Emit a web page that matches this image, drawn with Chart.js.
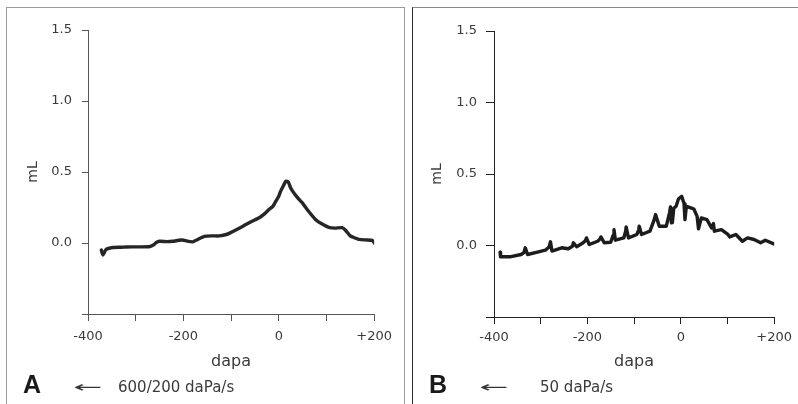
<!DOCTYPE html>
<html>
<head>
<meta charset="utf-8">
<script src="https://cdn.jsdelivr.net/npm/chart.js@4.4.1/dist/chart.umd.min.js"></script>
<style>
  html, body { margin: 0; padding: 0; background: #fff; }
  #wrap { position: relative; width: 798px; height: 404px; overflow: hidden; font-family: "DejaVu Sans", sans-serif; color: #3a3a3a; }
  canvas { position: absolute; top: 0; }
  .frame { position: absolute; top: 7px; height: 420px; }
  .txt { position: absolute; line-height: 1; transform: translateY(-50%); white-space: nowrap; }
  .letter { font-family: "Liberation Sans", Arial, sans-serif; font-weight: bold; font-size: 25px; color: #1a1a1a; }
  .arrow { display: inline-block; font-size: 15px; transform: translateY(-50%) scaleX(2.3); transform-origin: left center; color: #333; }
  .sub { font-size: 15px; }
</style>
</head>
<body>
<div id="wrap">
  <div class="frame" style="left:6px; width:397px; border:1px solid #9a9a9a;"></div>
  <div class="frame" style="left:412px; width:400px; border:1px solid #2a2a2a; border-top-color:#8a8a8a;"></div>
  <canvas id="chartA" width="400" height="404" style="left:0px"></canvas>
  <canvas id="chartB" width="398" height="404" style="left:400px"></canvas>
  <div class="txt letter" style="left:23px; top:384px;">A</div>
  <div class="txt arrow" style="left:73px; top:387px;">←</div>
  <div class="txt sub" style="left:118px; top:387px;">600/200 daPa/s</div>
  <div class="txt letter" style="left:429px; top:384px;">B</div>
  <div class="txt arrow" style="left:479px; top:387px;">←</div>
  <div class="txt sub" style="left:540px; top:387px;">50 daPa/s</div>
</div>
<script>
// pressure (daPa) and volume (mL)
const aDapa = [-372, -369, -362, -348, -330, -320, -295, -272, -262, -257, -250, -235, -222, -210, -202, -192, -181, -170, -156, -140, -125, -112, -104, -85, -69, -55, -41, -30, -20, -12, -6, 0, 4, 10, 15, 20, 24, 29, 38, 49, 62, 77, 90, 105, 118, 133, 140, 150, 160, 168, 182, 196, 201];
const aVol  = [-0.05, -0.085, -0.045, -0.032, -0.03, -0.028, -0.027, -0.026, -0.012, 0.003, 0.012, 0.010, 0.012, 0.019, 0.021, 0.013, 0.008, 0.025, 0.047, 0.05, 0.05, 0.058, 0.068, 0.1, 0.13, 0.155, 0.178, 0.205, 0.237, 0.26, 0.295, 0.33, 0.365, 0.405, 0.435, 0.43, 0.395, 0.365, 0.325, 0.284, 0.225, 0.166, 0.135, 0.11, 0.105, 0.108, 0.09, 0.05, 0.035, 0.026, 0.022, 0.019, -0.002];

const bDapa = [-387, -386, -366, -342, -336, -333, -328, -307, -290, -282, -279, -276, -255, -241, -232, -230, -223, -209, -204, -202, -196, -178, -173, -171, -164, -150, -145, -143, -140, -122, -118, -117, -112, -94, -90, -89, -84, -66, -58, -54, -46, -31, -24, -22, -20, -18, -15, -10, -5, 2, 7, 9, 12, 20, 28, 35, 38, 44, 56, 66, 70, 72, 87, 101, 105, 118, 132, 143, 157, 171, 181, 202];
const bVol  = [-0.046, -0.079, -0.079, -0.063, -0.05, -0.016, -0.063, -0.046, -0.033, -0.01, 0.026, -0.039, -0.016, -0.023, -0.005, 0.019, -0.009, 0.019, 0.035, 0.053, 0.007, 0.03, 0.045, 0.06, 0.019, 0.023, 0.07, 0.111, 0.037, 0.053, 0.1, 0.13, 0.053, 0.077, 0.11, 0.135, 0.077, 0.1, 0.17, 0.216, 0.135, 0.135, 0.23, 0.27, 0.158, 0.16, 0.26, 0.274, 0.325, 0.344, 0.293, 0.181, 0.274, 0.265, 0.255, 0.204, 0.116, 0.193, 0.181, 0.123, 0.153, 0.1, 0.111, 0.077, 0.06, 0.077, 0.03, 0.053, 0.042, 0.019, 0.037, 0.007];

const xRange = [-400, 200];
const xLabelled = [-400, -200, 0, 200];
const yRange = [-0.5, 1.5];
const yLabelled = [0, 0.5, 1, 1.5];

function xLabel(v) {
  if (!xLabelled.includes(v)) return "";
  return v > 0 ? "+" + v : String(v);
}
function yLabel(v) {
  return yLabelled.includes(v) ? v.toFixed(1) : "";
}

function makePanel(id, xs, ys, o) {
  const pts = xs.map((x, i) => ({ x: x, y: ys[i] }));
  return new Chart(document.getElementById(id), {
    type: "scatter",
    data: {
      datasets: [{
        data: pts,
        showLine: true,
        borderColor: o.line,
        borderWidth: o.lw,
        pointRadius: 0,
        borderJoinStyle: "round",
        borderCapStyle: "round",
        tension: o.tension
      }]
    },
    options: {
      responsive: false,
      animation: false,
      devicePixelRatio: 1,
      layout: { padding: { left: 0, top: o.top, right: o.right, bottom: 0 } },
      plugins: { legend: { display: false }, tooltip: { enabled: false } },
      scales: {
        x: {
          type: "linear",
          min: xRange[0], max: xRange[1],
          afterFit: s => { s.height = o.xh; },
          border: { display: true, color: o.axis, width: 1 },
          grid: { drawOnChartArea: false, drawTicks: true, tickLength: 7, color: o.axis },
          ticks: {
            stepSize: 100, autoSkip: false, maxRotation: 0, padding: o.xpad,
            color: "#3a3a3a", font: { family: "DejaVu Sans", size: 13 },
            callback: v => xLabel(v)
          },
          title: {
            display: true, text: "dapa", color: "#3a3a3a",
            font: { family: "DejaVu Sans", size: 16 },
            padding: { top: 0, bottom: 33 }
          }
        },
        y: {
          type: "linear",
          min: yRange[0], max: yRange[1],
          afterFit: s => { s.width = o.yw; },
          border: { display: true, color: o.axis, width: 1 },
          grid: { drawOnChartArea: false, drawTicks: true, tickLength: o.ytl, color: o.axis },
          ticks: {
            stepSize: 0.5, autoSkip: false, padding: o.ypad,
            color: "#3a3a3a", font: { family: "DejaVu Sans", size: 13 },
            callback: v => yLabel(v)
          },
          title: {
            display: true, text: "mL", color: "#3a3a3a",
            font: { family: "DejaVu Sans", size: 14 },
            padding: { top: o.ytp, bottom: 0 }
          }
        }
      }
    }
  });
}

makePanel("chartA", aDapa, aVol, {
  line: "#262626", lw: 3.4, axis: "#555", tension: 0.15,
  top: 30, right: 25, xh: 90, yw: 88, ytl: 6, ypad: 10, xpad: 8, ytp: 25
});
makePanel("chartB", bDapa, bVol, {
  line: "#1c1c1c", lw: 3.4, axis: "#222", tension: 0,
  top: 31, right: 17, xh: 87, yw: 94, ytl: 8, ypad: 9, xpad: 6, ytp: 29
});
</script>
</body>
</html>
